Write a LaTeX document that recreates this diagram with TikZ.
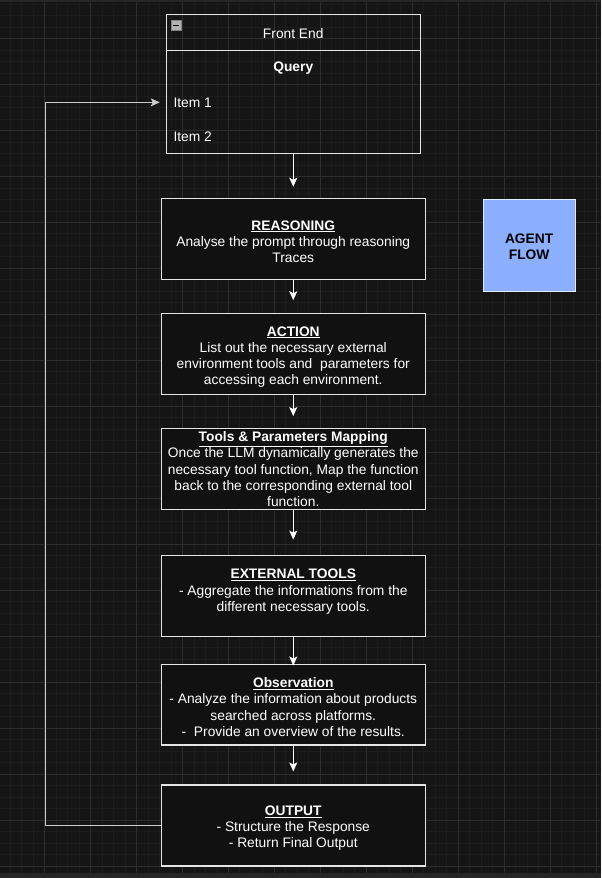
\documentclass[tikz,border=0pt]{standalone}
\usepackage{fontspec}
\setmainfont{Liberation Sans}
\usepackage{tikz}
\usetikzlibrary{arrows.meta}
\definecolor{canvas}{HTML}{151515}
\definecolor{gridminor}{HTML}{1C1C1C}
\definecolor{gridmajor}{HTML}{2D2D2D}
\definecolor{boxfill}{HTML}{111111}
\definecolor{agentblue}{HTML}{8DAFFF}
\newcommand{\boxtitle}[1]{\rule{0pt}{15pt}\underline{\textbf{#1}}}

\begin{document}
\begin{tikzpicture}[x=1pt, y=-1pt,
	every node/.style={font=\fontsize{13.8}{16.2}\selectfont, text=white},
	stepbox/.style={draw=white!90!black, line width=1.2pt, fill=boxfill, minimum width=264, minimum height=81, inner sep=0pt, align=center},
	flow/.style={draw=white, line width=1.2pt, -{Stealth[length=9pt,width=8pt,inset=2pt]}},
	backflow/.style={draw=white!80!black, line width=1.2pt, -{Stealth[length=9pt,width=8pt,inset=2pt]}}]

	% Background and grid
	\fill[canvas] (0,0) rectangle (601,878);
	\foreach \i in {-3,...,48} \draw[gridminor, line width=0.6pt] ({44+11.5*\i},0) -- ({44+11.5*\i},873);
	\foreach \i in {-3,...,72} \draw[gridminor, line width=0.6pt] (0,{38+11.5*\i}) -- (601,{38+11.5*\i});
	\foreach \i in {0,...,12} \draw[gridmajor, line width=0.8pt] ({44+46*\i},0) -- ({44+46*\i},873);
	\foreach \i in {0,...,18} \draw[gridmajor, line width=0.8pt] (0,{38+46*\i}) -- (601,{38+46*\i});
	\fill[white!15!black] (0,0) rectangle (601,2);
	\fill[white!15!black] (0,873) rectangle (601,878);

	% Front end list
	\node[draw=white!90!black, line width=1.2pt, minimum width=254, minimum height=36, inner sep=0pt] (fehead) at (293,32) {\rule{0pt}{12pt}Front End};
	\node[draw=white!90!black, line width=1.2pt, minimum width=254, minimum height=103, inner sep=0pt] (febody) at (293,101.5) {};
	\node (query) at (293,68) {\textbf{Query}};
	\node[anchor=west, inner sep=0pt] (item1) at (173,102) {Item 1};
	\node[anchor=west, inner sep=0pt] (item2) at (173,136) {Item 2};
	\fill[white!70!black, draw=white!50!black, line width=0.4pt] (171,20) rectangle (181,30);
	\draw[black, line width=1.2pt] (173,25) -- (179,25);

	% Steps
	\node[stepbox] (reasoning) at (293,238.5) {\boxtitle{REASONING}\\Analyse the prompt through reasoning\\Traces};
	\node[stepbox] (action) at (293,354) {\boxtitle{ACTION}\\List out the necessary external\\environment tools and~ parameters for\\accessing each environment.};
	\node[stepbox] (mapping) at (293,469) {\underline{\textbf{Tools \& Parameters Mapping}}\\Once the LLM dynamically generates the\\necessary tool function, Map the function\\back to the corresponding external tool\\function.};
	\node[stepbox] (exttools) at (293,595.5) {\boxtitle{EXTERNAL TOOLS}\\- Aggregate the informations from the\\different necessary tools.\\[0pt]};
	\node[stepbox] (observation) at (293,704.5) {\boxtitle{Observation}\\- Analyze the information about products\\searched across platforms.\\-~ Provide an overview of the results.};
	\node[stepbox] (output) at (293,825.5) {\boxtitle{OUTPUT}\\- Structure the Response\\- Return Final Output};

	% Label
	\node[draw=white!75!agentblue, line width=0.8pt, fill=agentblue, minimum width=92, minimum height=92, inner sep=0pt, align=center, text=black] (agent) at (529,245) {\rule{0pt}{13pt}\textbf{AGENT}\\\textbf{FLOW}};

	% Arrows
	\draw[flow, shorten >=11pt] (febody) -- (reasoning);
	\draw[flow, shorten >=13pt] (reasoning) -- (action);
	\draw[flow, shorten >=12pt] (action) -- (mapping);
	\draw[flow, shorten >=15pt] (mapping) -- (exttools);
	\draw[flow, shorten >=-2pt] (exttools) -- (observation);
	\draw[flow, shorten >=13pt] (observation) -- (output);
	\draw[backflow, shorten >=6pt] (output.west) -- ++(-115,0) |- (febody.west |- item1);
\end{tikzpicture}
\end{document}
